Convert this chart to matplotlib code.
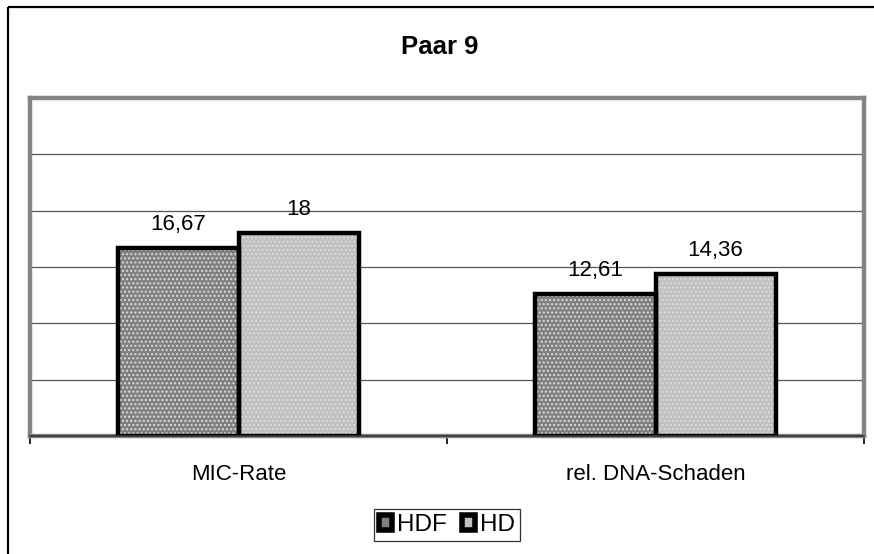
import matplotlib
matplotlib.use("Agg")
import matplotlib.pyplot as plt
from matplotlib.patches import Patch
from matplotlib.lines import Line2D
import numpy as np

plt.rcParams["font.family"] = ["Liberation Sans", "DejaVu Sans"]

categories = ["MIC-Rate", "rel. DNA-Schaden"]
series_names = ["HDF", "HD"]
hdf_values = [16.67, 12.61]
hd_values = [18.0, 14.36]
value_labels_hdf = ["16,67", "12,61"]
value_labels_hd = ["18", "14,36"]
title = "Paar 9"

W, H = 874, 554
fig = plt.figure(figsize=(W / 100, H / 100), dpi=100)
fig.patch.set_facecolor("white")

# outer chart border (left and top edges)
fig.add_artist(Line2D([8 / W, 8 / W], [0, 1 - 7 / H], transform=fig.transFigure,
                      color="black", lw=1.6, solid_capstyle="butt"))
fig.add_artist(Line2D([8 / W, 1], [1 - 7 / H, 1 - 7 / H], transform=fig.transFigure,
                      color="black", lw=1.6, solid_capstyle="butt"))

left, right, top, bottom = 30, 864, 98, 436
ax = fig.add_axes([left / W, 1 - bottom / H, (right - left) / W, (bottom - top) / H])
ax.set_facecolor("white")

x = np.arange(len(categories))
bw = 0.288
colors = ["#808080", "#c0c0c0"]
series = [hdf_values, hd_values]
labels = [value_labels_hdf, value_labels_hd]
offsets = [-bw / 2, bw / 2]

for vals, col, off, labs in zip(series, colors, offsets, labels):
    ax.bar(x + off, vals, bw, color=col, edgecolor="#dcdcdc", hatch="....", lw=0, zorder=3)
    ax.bar(x + off, vals, bw, facecolor="none", edgecolor="black", lw=3.2, zorder=4)
    for xi, v, t in zip(x + off, vals, labs):
        ax.annotate(t, (xi, v), xytext=(0, 13), textcoords="offset points",
                    ha="center", va="baseline", fontsize=16, zorder=5)

ax.set_xlim(-0.5, 1.5)
ax.set_ylim(0, 30)
ax.set_yticks([5, 10, 15, 20, 25])
for yv in [5, 10, 15, 20, 25]:
    ax.axhline(yv, color="#555555", lw=0.9, zorder=1)
ax.tick_params(axis="y", left=False, labelleft=False)

ax.set_xticks(x)
ax.set_xticklabels(categories, fontsize=16)
ax.tick_params(axis="x", which="major", length=0, pad=20)
ax.set_xticks([-0.5, 0.5, 1.5], minor=True)
ax.tick_params(axis="x", which="minor", length=6, width=1.2, color="black", direction="out")

for s in ["left", "right", "top", "bottom"]:
    ax.spines[s].set_color("#858585")
    ax.spines[s].set_linewidth(3.2)
ax.axhline(0, color="#333333", lw=1.2, zorder=6, clip_on=False)

fig.text(440 / W, 1 - 47 / H, title, ha="center", va="center", fontsize=18.5, fontweight="bold")

handles = [Patch(facecolor=c, edgecolor="black", lw=4) for c in colors]
leg = fig.legend(handles, series_names, loc="center", bbox_to_anchor=(447 / W, 1 - 525 / H),
                 ncol=2, fontsize=17.5, frameon=True, fancybox=False, handlelength=0.55,
                 handleheight=0.55, handletextpad=0.2, columnspacing=0.6, borderpad=0.2,
                 borderaxespad=0)
leg.get_frame().set_edgecolor("black")
leg.get_frame().set_linewidth(0.9)

fig.savefig("out.png", dpi=100, facecolor="white")
